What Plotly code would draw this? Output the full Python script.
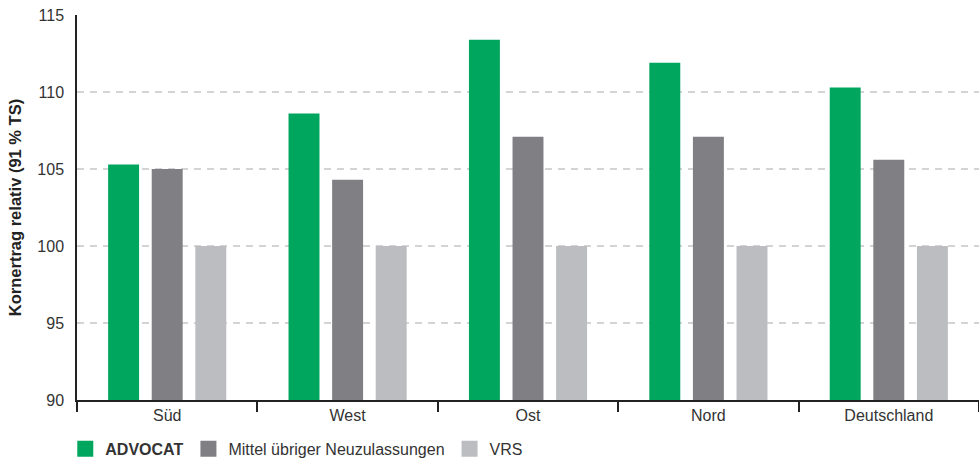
import plotly.graph_objects as go

categories = ["Süd", "West", "Ost", "Nord", "Deutschland"]
advocat = [105.3, 108.6, 113.4, 111.9, 110.3]
mittel = [105.0, 104.3, 107.1, 107.1, 105.6]
vrs = [100, 100, 100, 100, 100]
series_names = ["ADVOCAT", "Mittel übriger Neuzulassungen", "VRS"]
legend_labels = ["<b>ADVOCAT</b>", "Mittel übriger Neuzulassungen", "VRS"]
colors = ["#00a65d", "#808084", "#bcbdc0"]
y_ticks = [90, 95, 100, 105, 110, 115]

fig = go.Figure()
for name, vals, col in zip(series_names, [advocat, mittel, vrs], colors):
    fig.add_trace(go.Bar(x=categories, y=vals, name=name, marker_color=col,
                         marker_line_width=0, showlegend=False))
for lab, col in zip(legend_labels, colors):
    fig.add_trace(go.Scatter(x=[None], y=[None], mode="markers", name=lab,
                             marker=dict(symbol="square", size=16, color=col)))

fig.update_layout(
    width=979, height=460,
    margin=dict(l=77, r=0, t=15, b=60, autoexpand=False),
    plot_bgcolor="white", paper_bgcolor="white",
    barmode="group", bargap=0.275, bargroupgap=0.29,
    font=dict(family="Liberation Sans, Arial, sans-serif", size=16, color="#333333"),
    legend=dict(orientation="h", x=-0.013, xanchor="left",
                yref="paper", y=-0.127, yanchor="middle",
                font=dict(size=16, color="#333333"), itemwidth=30, tracegroupgap=0),
    showlegend=True,
)
fig.update_yaxes(range=[90, 115], tickvals=y_ticks, showgrid=True,
                 gridcolor="#d4d4d4", griddash="7px,6px", gridwidth=1.5,
                 showline=True, linecolor="#222222", linewidth=1.5,
                 ticks="", ticklabelstandoff=8, zeroline=False, automargin=False,
                 title=dict(text="<b>Kornertrag relativ (91 % TS)</b>", font=dict(size=16.5, color="#222222"), standoff=12))
fig.update_xaxes(showline=True, linecolor="#222222", linewidth=1.5, automargin=False,
                 ticks="outside", tickson="boundaries", ticklen=10, tickcolor="#222222", tickwidth=1.5,
                 showgrid=False)

fig.write_html("out.html")
